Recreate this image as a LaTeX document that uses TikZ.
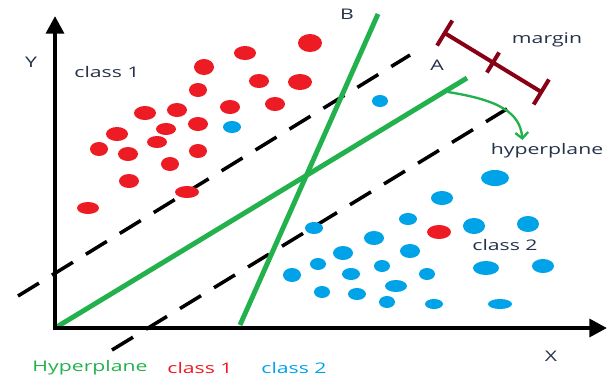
\documentclass[tikz,border=0pt]{standalone}
\usepackage{fontspec}
\setmainfont{Open Sans}[FakeStretch=1.45]
\usetikzlibrary{arrows.meta,calc,positioning,shapes.geometric}
\definecolor{Ink}{HTML}{000000}
\definecolor{LabelInk}{HTML}{26324A}
\definecolor{ClassRed}{HTML}{ED1C24}
\definecolor{ClassBlue}{HTML}{00A2E8}
\definecolor{PlaneGreen}{HTML}{22B14C}
\definecolor{MarginRed}{HTML}{880015}
\tikzset{
  axisline/.style={draw=Ink, line width=3.6pt, -{Triangle[length=15pt,width=15pt]}},
  planeline/.style={draw=PlaneGreen, line width=4.2pt},
  supportline/.style={draw=Ink, line width=3pt, dash pattern=on 21pt off 13pt},
  marginbar/.style={draw=MarginRed, line width=3.4pt},
  pointer/.style={draw=PlaneGreen, line width=2pt, -{Straight Barb[length=5pt,width=11pt]}},
  tag/.style={inner sep=1pt, text=LabelInk, font=\fontsize{12.5}{14}\selectfont},
  legend/.style={tag, text=#1}
}
\newcommand{\dotlist}[2]{%
  \foreach \px/\py/\rx/\ry in {#2}
    \fill[#1] (\px,\py) ellipse [x radius=\rx, y radius=\ry];%
}

\begin{document}
\begin{tikzpicture}[x=0.03cm, y=-0.03cm]
  \useasboundingbox (0,0) rectangle (616,379);
  % axes
  \coordinate (origin) at (55,328);
  \coordinate (xend) at (607,328);
  \coordinate (yend) at (55,16);
  % margin lines
  \coordinate (upperstart) at (18,296);
  \coordinate (upperend) at (410,55);
  \coordinate (lowerstart) at (112,350);
  \coordinate (lowerend) at (510,107);
  \draw[supportline] (upperstart) -- (upperend);
  \draw[supportline] (lowerstart) -- (lowerend);
  % hyperplanes
  \coordinate (aend) at (467,78);
  \coordinate (bstart) at (240,325);
  \coordinate (bend) at (378,14);
  \draw[planeline] (origin) -- (aend);
  \draw[planeline] (bstart) -- (bend);
  \draw[axisline] ([xshift=-1.8pt]origin) -- (xend);
  \draw[axisline] ([yshift=-1.8pt]origin) -- (yend);
  % class 1 points
  \dotlist{ClassRed}{310/43/12/9, 245/53/11/7, 204/67/10/8, 259/81/10/7,
    300/82/12/8, 198/90/9/7, 145/113/11/7, 177/110/10/7, 230/107/10/7,
    275/104/10/7, 117/134/11/7, 166/129/10/6, 198/124/10/7, 99/149/9/7,
    128/154/10/7, 157/142/10/6, 198/151/9/7, 170/164/9/7, 129/181/10/7,
    187/192/12/6, 88/208/11/6, 439/232/12/7}
  % class 2 points
  \dotlist{ClassBlue}{232/127/9/6, 380/101/8/6, 495/178/14/8, 442/198/11/7,
    408/219/9/6, 314/228/9/6, 474/226/11/8, 528/224/11/8, 374/238/10/7,
    343/253/10/7, 410/251/10/7, 292/275/9/7, 318/264/8/6, 351/274/9/6,
    382/266/8/6, 427/274/8/6, 486/268/13/7, 543/266/11/7, 396/286/11/6,
    322/292/8/6, 357/294/9/6, 387/302/8/6, 434/304/9/5, 500/304/12/5}
  % margin bar
  \coordinate (mstart) at (443,32);
  \coordinate (mend) at (543,93);
  \coordinate (mmid) at ($(mstart)!0.5!(mend)$);
  \draw[marginbar, {Bar[width=25pt]}-{Bar[width=25pt]}] (mstart) -- (mend);
  \draw[marginbar] ($(mmid)!10pt!90:(mend)$) -- ($(mmid)!10pt!-90:(mend)$);
  % labels
  \node[tag] (ylabel) at (31,62) {Y};
  \node[tag] (xlabel) at (551,356) {X};
  \node[tag] (blabel) at (347,14) {B};
  \node[tag] (alabel) at (437,65) {A};
  \node[tag] (marginlabel) at (547,40) {margin};
  \node[tag] (planelabel) at (547,151) {hyperplane};
  \node[tag] (class1label) at (107,72) {class 1};
  \node[tag] (class2label) at (505,245) {class 2};
  \coordinate (pointstart) at (448,92);
  \draw[pointer] (pointstart) .. controls (498,100) and (520,112) .. ([xshift=-21pt,yshift=2pt]planelabel.north);
  % legend
  \node[legend=PlaneGreen] (leghyper) at (90,368) {Hyperplane};
  \node[legend=ClassRed] (legclass1) at (200,368) {class 1};
  \node[legend=ClassBlue] (legclass2) at (294,368) {class 2};
\end{tikzpicture}
\end{document}
